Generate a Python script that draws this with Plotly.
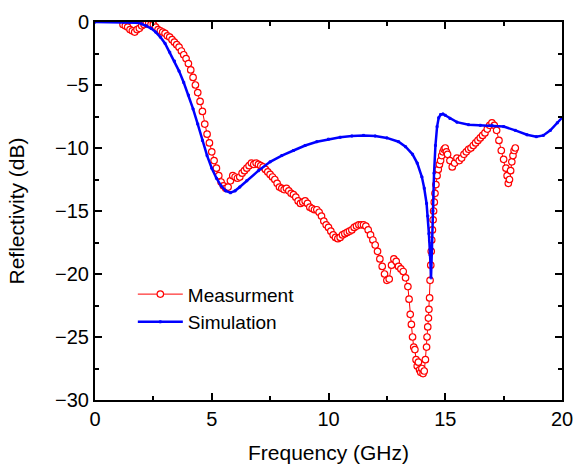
import plotly.graph_objects as go

# Measurement (open red circles)
meas_f = [1.2, 1.3, 1.4, 1.5, 1.6, 1.7, 1.8, 1.9, 2.0, 2.1, 2.2, 2.3, 2.4, 2.5, 2.6, 2.7, 2.8, 2.9,
          3.0, 3.1, 3.2, 3.3, 3.4, 3.5, 3.6, 3.7, 3.8, 3.9, 4.0, 4.1, 4.2, 4.3, 4.4, 4.5, 4.6, 4.7,
          4.8, 4.9, 5.0, 5.1, 5.2, 5.3, 5.4, 5.5, 5.6, 5.7, 5.8, 5.9, 6.0, 6.1, 6.2, 6.3, 6.4, 6.5,
          6.6, 6.7, 6.8, 6.9, 7.0, 7.1, 7.2, 7.3, 7.4, 7.5, 7.6, 7.7, 7.8, 7.9, 8.0, 8.1, 8.2, 8.3,
          8.4, 8.5, 8.6, 8.7, 8.8, 8.9, 9.0, 9.1, 9.2, 9.3, 9.4, 9.5, 9.6, 9.7, 9.8, 9.9, 10.0, 10.1,
          10.2, 10.3, 10.4, 10.5, 10.6, 10.7, 10.8, 10.9, 11.0, 11.1, 11.2, 11.3, 11.4, 11.5, 11.6,
          11.7, 11.8, 11.9, 12.0, 12.1, 12.2, 12.3, 12.4, 12.5, 12.6, 12.7, 12.8, 12.9, 13.0, 13.1,
          13.2, 13.3, 13.4, 13.45, 13.5, 13.55, 13.6, 13.65, 13.7, 13.75, 13.8, 13.85, 13.9, 13.95,
          14.0, 14.05, 14.1, 14.15, 14.2, 14.22, 14.25, 14.28, 14.3, 14.33, 14.35, 14.38, 14.4,
          14.42, 14.45, 14.48, 14.5, 14.53, 14.56, 14.6, 14.65, 14.7, 14.75, 14.8, 14.85, 14.9,
          14.95, 15.0, 15.05, 15.1, 15.2, 15.3, 15.4, 15.5, 15.6, 15.7, 15.8, 15.9, 16.0, 16.1,
          16.2, 16.3, 16.4, 16.5, 16.6, 16.7, 16.8, 16.9, 17.0, 17.1, 17.2, 17.3, 17.4, 17.5, 17.6,
          17.65, 17.7, 17.75, 17.8, 17.85, 17.9, 17.95, 18.0]
meas_db = [-0.2, -0.3, -0.4, -0.6, -0.7, -0.8, -0.6, -0.5, -0.3, -0.2, -0.1, -0.1, -0.2, -0.2,
           -0.4, -0.6, -0.7, -0.8, -0.9, -1.1, -1.2, -1.4, -1.6, -1.8, -2.0, -2.3, -2.6, -2.9,
           -3.3, -3.8, -4.4, -5.0, -5.6, -6.3, -7.1, -8.1, -8.9, -9.6, -10.3, -11.0, -11.6, -12.2,
           -12.7, -13.0, -13.2, -13.1, -12.6, -12.2, -12.3, -12.4, -12.3, -12.0, -11.8, -11.6,
           -11.4, -11.2, -11.3, -11.2, -11.3, -11.4, -11.5, -11.7, -11.9, -12.1, -12.3, -12.5,
           -12.8, -13.1, -13.2, -13.3, -13.2, -13.4, -13.6, -13.7, -13.9, -14.2, -14.4, -14.3,
           -14.2, -14.4, -14.7, -14.8, -14.9, -14.9, -15.1, -15.4, -15.8, -16.1, -16.3, -16.6,
           -16.9, -17.1, -17.2, -17.1, -16.9, -16.8, -16.7, -16.6, -16.5, -16.3, -16.2, -16.1,
           -16.1, -16.1, -16.2, -16.5, -16.9, -17.3, -17.7, -18.2, -18.8, -19.4, -20.0, -20.5,
           -20.4, -19.3, -18.8, -19.0, -19.4, -19.6, -19.8, -20.3, -21.0, -22.0, -23.2, -24.0,
           -25.0, -25.8, -26.0, -26.8, -27.3, -27.0, -27.6, -27.8, -27.5, -27.9, -27.7, -26.8,
           -25.8, -25.0, -24.2, -23.5, -22.8, -21.9, -20.5, -19.3, -18.2, -17.3, -16.5, -15.7,
           -15.0, -14.3, -13.6, -12.9, -12.2, -11.7, -11.3, -11.0, -10.6, -10.3, -10.1, -10.0,
           -10.3, -10.5, -11.0, -11.5, -11.2, -10.8, -11.0, -10.8, -10.5, -10.3, -10.1, -10.0,
           -9.8, -9.6, -9.4, -9.2, -9.0, -8.8, -8.5, -8.2, -8.0, -8.2, -8.6, -9.4, -10.2, -10.9,
           -11.6, -12.2, -12.8, -12.5, -11.8, -11.1, -10.6, -10.2, -10.0]

# Simulation (blue line)
sim_f = [0, 1.5, 1.8, 2.0, 2.2, 2.4, 2.6, 2.8, 3.0, 3.2, 3.4, 3.6, 3.8, 4.0, 4.2, 4.4, 4.6, 4.8,
         5.0, 5.2, 5.4, 5.6, 5.8, 6.0, 6.2, 6.5, 7.0, 7.5, 8.0, 8.5, 9.0, 9.5, 10.0, 10.5, 11.0,
         11.5, 12.0, 12.5, 13.0, 13.3, 13.6, 13.8, 14.0, 14.1, 14.2, 14.25, 14.3, 14.35, 14.39,
         14.43, 14.47, 14.52, 14.58, 14.65, 14.72, 14.8, 14.9, 15.0, 15.2, 15.5, 16.0, 16.5, 17.0,
         17.5, 18.0, 18.5, 18.9, 19.2, 19.5, 19.8, 20.0]
sim_db = [0, 0, -0.05, -0.15, -0.3, -0.5, -0.8, -1.2, -1.7, -2.4, -3.1, -3.9, -4.8, -5.8, -6.9,
          -8.1, -9.4, -10.6, -11.6, -12.4, -13.0, -13.4, -13.55, -13.4, -13.1, -12.6, -11.8,
          -11.1, -10.6, -10.2, -9.8, -9.5, -9.3, -9.15, -9.05, -9.0, -9.05, -9.2, -9.5, -9.9,
          -10.5, -11.2, -12.3, -13.2, -14.4, -15.4, -16.8, -18.5, -20.3, -18.0, -15.0, -12.0,
          -9.8, -8.3, -7.6, -7.35, -7.3, -7.4, -7.65, -7.95, -8.15, -8.2, -8.2, -8.3, -8.6, -8.95,
          -9.1, -9.0, -8.6, -8.0, -7.6]

x_ticks = [0, 5, 10, 15, 20]
y_ticks = [0, -5, -10, -15, -20, -25, -30]
x_minor = [2.5, 7.5, 12.5, 17.5]
y_minor = [-2.5, -7.5, -12.5, -17.5, -22.5, -27.5]
x_range = [0, 20]
y_range = [-30, 0]

font_family = "Liberation Sans, Arial, sans-serif"

fig = go.Figure()
fig.add_trace(go.Scatter(
    x=meas_f, y=meas_db, mode="lines+markers", name="Measurment",
    line=dict(color="#ff0000", width=1),
    marker=dict(symbol="circle", size=6.5, color="white", line=dict(color="#ff0000", width=1.2)),
))
fig.add_trace(go.Scatter(
    x=sim_f, y=sim_db, mode="lines+markers", name="Simulation",
    line=dict(color="#0000ff", width=2.5),
    marker=dict(symbol="square-open", size=2, color="#0000ff", line=dict(width=1)),
))

tick_font = dict(family=font_family, size=20, color="black")
title_font = dict(family=font_family, size=21, color="black")

fig.update_layout(
    width=577, height=469,
    margin=dict(l=95, r=15, t=22, b=69, autoexpand=False),
    paper_bgcolor="white", plot_bgcolor="white",
    showlegend=True,
    xaxis=dict(
        range=x_range, tickvals=x_ticks,
        showline=True, linecolor="black", linewidth=2, mirror="ticks",
        ticks="inside", ticklen=7, tickwidth=2, tickcolor="black",
        minor=dict(tickvals=x_minor, ticks="inside", ticklen=4),
        showgrid=False, zeroline=False, tickfont=tick_font,
        title=dict(text="Frequency (GHz)", font=title_font, standoff=16),
    ),
    yaxis=dict(
        range=y_range, tickvals=y_ticks,
        showline=True, linecolor="black", linewidth=2, mirror="ticks",
        ticks="inside", ticklen=7, tickwidth=2, tickcolor="black",
        minor=dict(tickvals=y_minor, ticks="inside", ticklen=4),
        showgrid=False, zeroline=False, tickfont=tick_font,
        title=dict(text="Reflectivity (dB)", font=title_font, standoff=25),
    ),
    legend=dict(x=0.081, y=0.33, xanchor="left", yanchor="top",
                bgcolor="rgba(0,0,0,0)", font=dict(family=font_family, size=19, color="black"),
                tracegroupgap=0, itemwidth=45),
)

fig.write_html("out.html", post_script="document.body.style.margin='0';",
               config={"displayModeBar": False, "staticPlot": True})
